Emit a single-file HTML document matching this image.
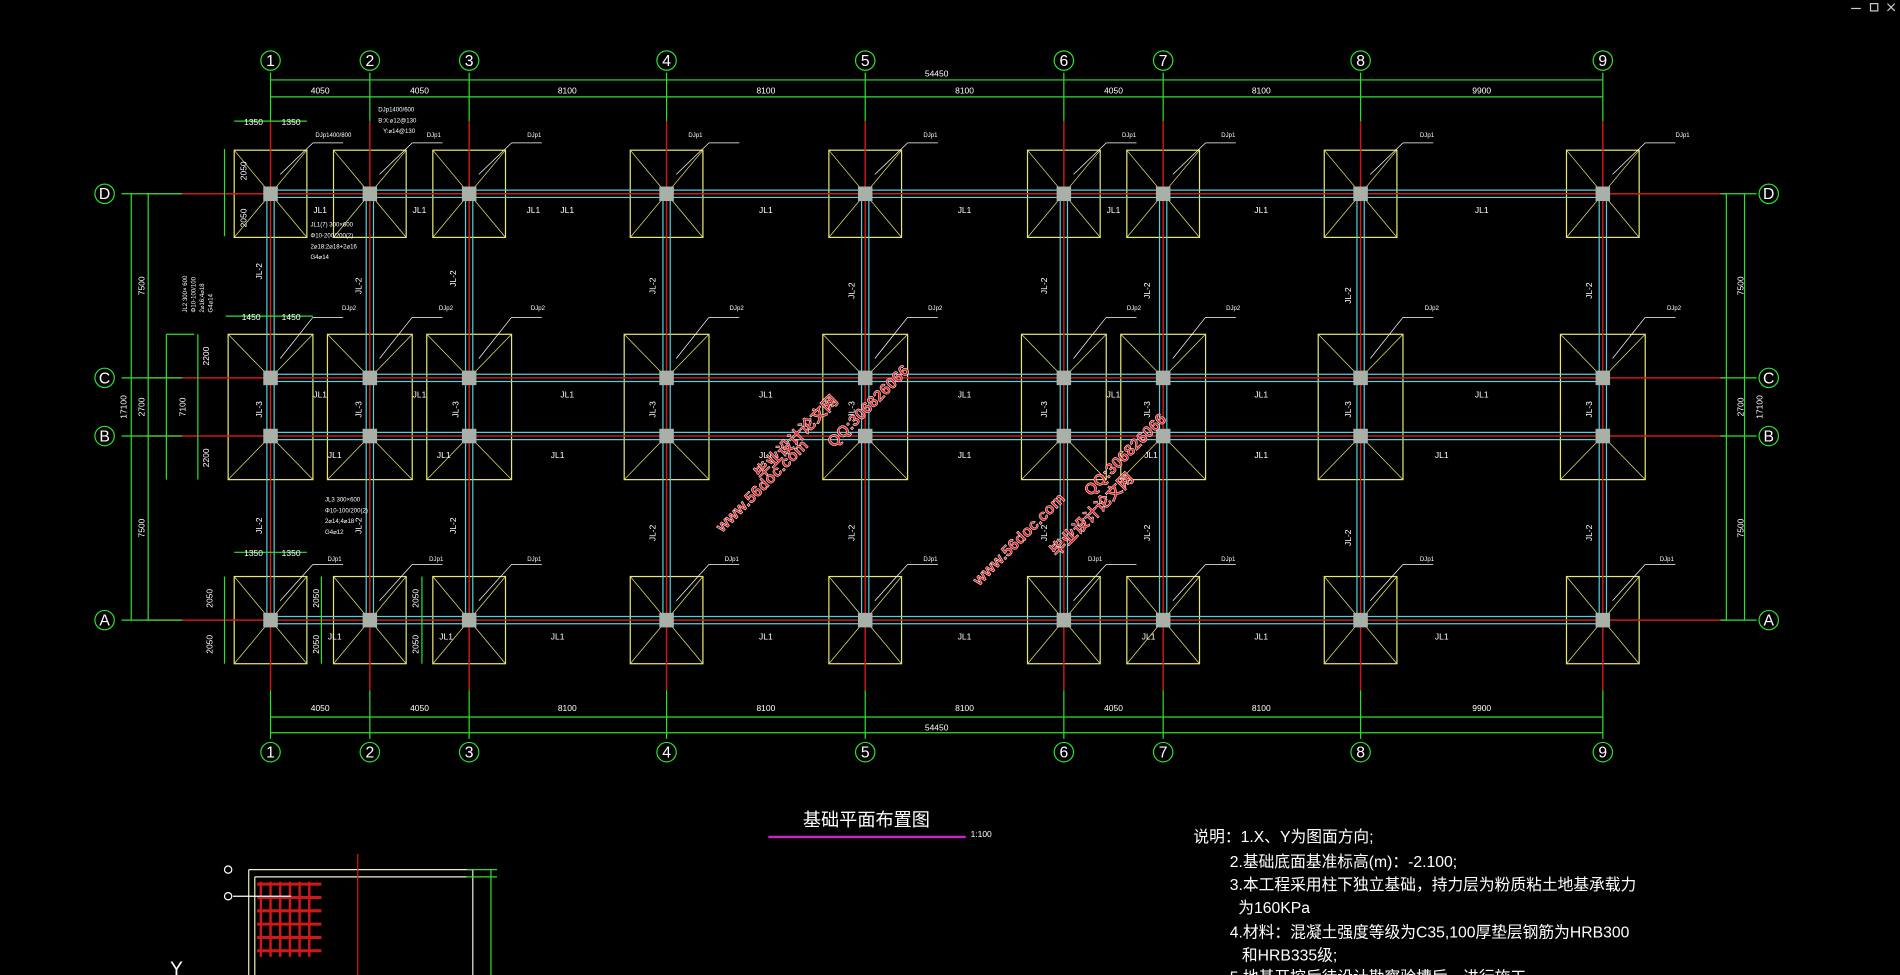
<!DOCTYPE html>
<html><head><meta charset="utf-8"><style>
html,body{margin:0;padding:0;background:#000;width:1900px;height:975px;overflow:hidden}
svg{display:block}
text{font-family:"Liberation Sans","Noto Sans CJK SC",sans-serif}
</style></head><body>
<svg id="s" width="1900" height="975" viewBox="0 0 1568 805" xmlns="http://www.w3.org/2000/svg">
<rect width="1568" height="805" fill="#000"/>
<g id="geo"></g>
<g fill="#fff" font-size="7" text-anchor="middle">
<text x="773" y="63">54450</text>
<text x="264" y="77">4050</text><text x="346" y="77">4050</text><text x="468" y="77">8100</text><text x="632" y="77">8100</text><text x="796" y="77">8100</text><text x="919" y="77">4050</text><text x="1041" y="77">8100</text><text x="1223" y="77">9900</text>
<text x="773" y="603">54450</text>
<text x="264" y="587">4050</text><text x="346" y="587">4050</text><text x="468" y="587">8100</text><text x="632" y="587">8100</text><text x="796" y="587">8100</text><text x="919" y="587">4050</text><text x="1041" y="587">8100</text><text x="1223" y="587">9900</text>
<text transform="translate(119,236) rotate(-90)">7500</text>
<text transform="translate(119,336) rotate(-90)">2700</text>
<text transform="translate(119,436) rotate(-90)">7500</text>
<text transform="translate(104,336) rotate(-90)">17100</text>
<text transform="translate(153,336) rotate(-90)">7100</text>
<text transform="translate(1439,236) rotate(-90)">7500</text>
<text transform="translate(1439,336) rotate(-90)">2700</text>
<text transform="translate(1439,436) rotate(-90)">7500</text>
<text transform="translate(1455,336) rotate(-90)">17100</text>
<text x="209" y="103">1350</text><text x="240" y="103">1350</text>
<text x="207" y="264">1450</text><text x="240" y="264">1450</text>
<text x="209" y="459">1350</text><text x="240" y="459">1350</text>
<text transform="translate(203,141) rotate(-90)">2050</text>
<text transform="translate(203,180) rotate(-90)">2050</text>
<text transform="translate(172,294) rotate(-90)">2200</text>
<text transform="translate(172,378) rotate(-90)">2200</text>
<text transform="translate(175,494) rotate(-90)">2050</text>
<text transform="translate(175,532) rotate(-90)">2050</text>
<text transform="translate(263,494) rotate(-90)">2050</text>
<text transform="translate(263,532) rotate(-90)">2050</text>
<text transform="translate(345,494) rotate(-90)">2050</text>
<text transform="translate(345,532) rotate(-90)">2050</text>
</g>
<g fill="#fff" font-size="7" text-anchor="middle">
<text x="264" y="176">JL1</text><text x="346" y="176">JL1</text><text x="440" y="176">JL1</text><text x="468" y="176">JL1</text><text x="632" y="176">JL1</text><text x="796" y="176">JL1</text><text x="919" y="176">JL1</text><text x="1041" y="176">JL1</text><text x="1223" y="176">JL1</text>
<text x="264" y="328">JL1</text><text x="346" y="328">JL1</text><text x="468" y="328">JL1</text><text x="632" y="328">JL1</text><text x="796" y="328">JL1</text><text x="919" y="328">JL1</text><text x="1041" y="328">JL1</text><text x="1223" y="328">JL1</text>
<text x="276" y="378">JL1</text><text x="366" y="378">JL1</text><text x="460" y="378">JL1</text><text x="632" y="378">JL1</text><text x="796" y="378">JL1</text><text x="950" y="378">JL1</text><text x="1041" y="378">JL1</text><text x="1190" y="378">JL1</text>
<text x="276" y="528">JL1</text><text x="368" y="528">JL1</text><text x="460" y="528">JL1</text><text x="632" y="528">JL1</text><text x="796" y="528">JL1</text><text x="948" y="528">JL1</text><text x="1041" y="528">JL1</text><text x="1190" y="528">JL1</text>
</g>
<g fill="#fff" font-size="7" text-anchor="middle">
<text transform="translate(216,224) rotate(-90)">JL-2</text><text transform="translate(298,236) rotate(-90)">JL-2</text><text transform="translate(376,230) rotate(-90)">JL-2</text><text transform="translate(541,236) rotate(-90)">JL-2</text><text transform="translate(705,240) rotate(-90)">JL-2</text><text transform="translate(864,236) rotate(-90)">JL-2</text><text transform="translate(949,240) rotate(-90)">JL-2</text><text transform="translate(1115,244) rotate(-90)">JL-2</text><text transform="translate(1314,240) rotate(-90)">JL-2</text>
<text transform="translate(216,338) rotate(-90)">JL-3</text><text transform="translate(298,338) rotate(-90)">JL-3</text><text transform="translate(378,338) rotate(-90)">JL-3</text><text transform="translate(541,338) rotate(-90)">JL-3</text><text transform="translate(705,338) rotate(-90)">JL-3</text><text transform="translate(864,338) rotate(-90)">JL-3</text><text transform="translate(949,338) rotate(-90)">JL-3</text><text transform="translate(1115,338) rotate(-90)">JL-3</text><text transform="translate(1314,338) rotate(-90)">JL-3</text>
<text transform="translate(216,434) rotate(-90)">JL-2</text><text transform="translate(298,434) rotate(-90)">JL-2</text><text transform="translate(376,434) rotate(-90)">JL-2</text><text transform="translate(541,440) rotate(-90)">JL-2</text><text transform="translate(705,440) rotate(-90)">JL-2</text><text transform="translate(864,440) rotate(-90)">JL-2</text><text transform="translate(949,440) rotate(-90)">JL-2</text><text transform="translate(1115,444) rotate(-90)">JL-2</text><text transform="translate(1314,440) rotate(-90)">JL-2</text>
</g>
<g fill="#fff" font-size="5">
<text x="260" y="113">DJp1400/800</text><text x="312" y="92">DJp1400/600</text><text x="312" y="101">B:X:⌀12@130</text><text x="316" y="110">Y:⌀14@130</text>
<text x="352" y="113">DJp1</text><text x="435" y="113">DJp1</text><text x="568" y="113">DJp1</text><text x="762" y="113">DJp1</text><text x="926" y="113">DJp1</text><text x="1008" y="113">DJp1</text><text x="1172" y="113">DJp1</text><text x="1383" y="113">DJp1</text>
<text x="282" y="256">DJp2</text><text x="362" y="256">DJp2</text><text x="438" y="256">DJp2</text><text x="602" y="256">DJp2</text><text x="766" y="256">DJp2</text><text x="930" y="256">DJp2</text><text x="1012" y="256">DJp2</text><text x="1176" y="256">DJp2</text><text x="1376" y="256">DJp2</text>
<text x="270" y="463">DJp1</text><text x="354" y="463">DJp1</text><text x="435" y="463">DJp1</text><text x="598" y="463">DJp1</text><text x="762" y="463">DJp1</text><text x="898" y="463">DJp1</text><text x="1008" y="463">DJp1</text><text x="1172" y="463">DJp1</text><text x="1370" y="463">DJp1</text>
<text x="256" y="187">JL1(7) 300×600</text><text x="256" y="196">Φ10-200/200(2)</text><text x="256" y="205">2⌀18;2⌀18+2⌀16</text><text x="256" y="214">G4⌀14</text>
<text x="268" y="414">JL3 300×600</text><text x="268" y="423">Φ10-100/200(2)</text><text x="268" y="432">2⌀14;4⌀18</text><text x="268" y="441">G4⌀12</text>
<text transform="translate(154,258) rotate(-90)">JL2 300× 600</text><text transform="translate(161,258) rotate(-90)">Φ10-100/100</text><text transform="translate(168,258) rotate(-90)">2⌀16;4⌀18</text><text transform="translate(175,258) rotate(-90)">G4⌀14</text>
</g>
<g font-family="Liberation Serif" font-size="13" fill="#fff" text-anchor="middle" id="bub"></g>
<g fill="#fff">
<text x="715" y="682" font-size="15" text-anchor="middle">基础平面布置图</text>
<line x1="634" y1="691" x2="797" y2="691" stroke="#d020d0" stroke-width="2"/>
<text x="801" y="691" font-size="7">1:100</text>
<g font-size="13">
<text x="985" y="695">说明：1.X、Y为图面方向;</text>
<text x="1015" y="716">2.基础底面基准标高(m)：-2.100;</text>
<text x="1015" y="735">3.本工程采用柱下独立基础，持力层为粉质粘土地基承载力</text>
<text x="1022" y="754">为160KPa</text>
<text x="1015" y="774">4.材料：混凝土强度等级为C35,100厚垫层钢筋为HRB300</text>
<text x="1025" y="793">和HRB335级;</text>
<text x="1015" y="811">5.地基开挖后待设计勘察验槽后，进行施工</text>
</g>
<text x="140" y="805" font-size="16">Y</text>
</g>
<g font-size="13" font-weight="bold" fill="#e02020" stroke="#fff" stroke-width="0.4">
<text transform="translate(596,440) rotate(-45)">www.56doc.com</text>
<text transform="translate(628,396) rotate(-45)">毕业设计论文网</text>
<text transform="translate(688,370) rotate(-45)">QQ:306826066</text>
<text transform="translate(808,484) rotate(-45)">www.56doc.com</text>
<text transform="translate(872,460) rotate(-45)">毕业设计论文网</text>
<text transform="translate(900,410) rotate(-45)">QQ:306826066</text>
</g>
</svg>
<script>
const X=[223,305,387,550,714,878,960,1123,1323],R={D:160,C:312,B:360,A:512};
const ns="http://www.w3.org/2000/svg",g=document.getElementById('geo');
function el(t,a){const e=document.createElementNS(ns,t);for(const k in a)e.setAttribute(k,a[k]);g.appendChild(e);return e}
function L(x1,y1,x2,y2,c,w){el('line',{x1,y1,x2,y2,stroke:c,'stroke-width':w||1})}
const G='#2ee02e',Y='#e8e870',C='#50d0e0',RD='#d01818',W='#fff';
// footings
X.forEach(x=>{
 [[R.D,30,36],[R.A,30,36]].forEach(([y,hw,hh])=>{
  el('rect',{x:x-hw,y:y-hh,width:hw*2,height:hh*2,fill:'none',stroke:Y,'stroke-width':1});
  L(x-hw,y-hh,x+hw,y+hh,Y,.6);L(x+hw,y-hh,x-hw,y+hh,Y,.6);
 });
 const t=276,b=396,hw=35;
 el('rect',{x:x-hw,y:t,width:hw*2,height:b-t,fill:'none',stroke:Y,'stroke-width':1});
 L(x-hw,t,x,R.C,Y,.6);L(x+hw,t,x,R.C,Y,.6);L(x-hw,b,x,R.B,Y,.6);L(x+hw,b,x,R.B,Y,.6);
 // leaders
 [[R.D-36,118],[R.C-36,262],[R.A-36,466]].forEach(([y0,yl])=>{L(x+8,y0+20,x+35,yl,W,.6);L(x+35,yl,x+60,yl,W,.6)});
});
// beams
Object.values(R).forEach(y=>{L(X[0],y-3,X[8],y-3,C,1);L(X[0],y+3,X[8],y+3,C,1);L(120,y,1425,y,RD,1.2);L(100,y,150,y,G,1);L(1420,y,1450,y,G,1)});
X.forEach(x=>{L(x-3,R.D,x-3,R.A,C,1);L(x+3,R.D,x+3,R.A,C,1);L(x,100,x,570,RD,1.2);L(x,60,x,100,G,1);L(x,570,x,610,G,1);
 Object.values(R).forEach(y=>el('rect',{x:x-6,y:y-6,width:12,height:12,fill:'#a8b0a8'}));});
// dims
[66,80,592,605].forEach(y=>L(X[0],y,X[8],y,G,1));
[108,122,1425,1440].forEach(x=>L(x,R.D,x,R.A,G,1));
L(137,276,137,396,G,1);L(137,276,160,276,G,1);
L(193,100,253,100,G,1);L(186,261,258,261,G,1);L(193,456,253,456,G,1);
L(185,123,185,195,G,1);L(163,276,163,396,G,1);L(185,476,185,548,G,1);L(265,476,265,548,G,1);L(348,476,348,548,G,1);
// bubbles
const bub=document.getElementById('bub');
function B(x,y,t){el('circle',{cx:x,cy:y,r:8,fill:'#000',stroke:G,'stroke-width':1});const e=document.createElementNS(ns,'text');e.setAttribute('x',x);e.setAttribute('y',y+4.5);e.textContent=t;bub.appendChild(e)}
X.forEach((x,i)=>{B(x,50,i+1);B(x,621,i+1)});
Object.entries(R).forEach(([k,y])=>{B(86,y,k);B(1460,y,k)});
// bottom detail
L(205,718,390,718,'#f0f0c0',1);L(205,718,205,805,'#f0f0c0',1);L(390,718,390,805,'#f0f0c0',1);L(210,724,385,724,'#f0f0c0',1);L(210,724,210,805,'#f0f0c0',1);
L(295,705,295,805,RD,1);L(405,718,405,805,G,1);L(385,718,410,718,G,1);L(385,724,410,724,G,1);
for(let i=0;i<6;i++){L(212,730+i*11,265,730+i*11,RD,2.5)}for(let i=0;i<6;i++){L(215+i*8,728,215+i*8,790,RD,2)}
L(192,740,240,740,W,1);el('circle',{cx:188,cy:718,r:3,fill:'none',stroke:W});el('circle',{cx:188,cy:740,r:3,fill:'none',stroke:W});
// window icons
L(1528,7,1536,7,'#ccc',1);el('rect',{x:1544,y:3,width:6,height:6,fill:'none',stroke:'#ccc'});L(1558,3,1564,9,'#ccc',1);L(1564,3,1558,9,'#ccc',1);
</script>
</body></html>
